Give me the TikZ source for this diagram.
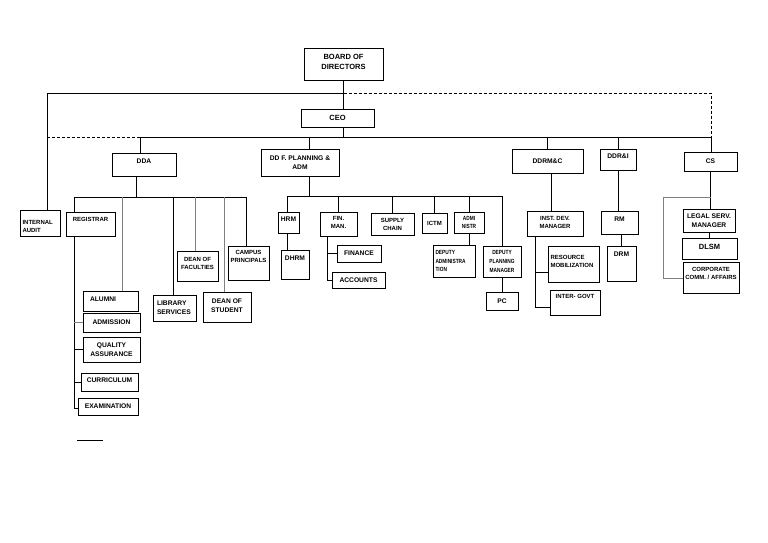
\documentclass[tikz,border=0pt]{standalone}
\usepackage{fontspec}
\setmainfont{Liberation Sans}
\newfontfamily\narrowsans[FakeStretch=0.8]{Liberation Sans}
\newcommand{\fbig}{\fontsize{7.5}{10.5}\selectfont\bfseries}
\newcommand{\fmid}{\fontsize{6.7}{8.6}\selectfont\bfseries}
\newcommand{\fsml}{\fontsize{6}{8}\selectfont\bfseries}
\newcommand{\ftny}{\narrowsans\fontsize{6}{8.6}\selectfont\bfseries}
\tikzset{
  unit/.style={draw, line width=0.95pt, inner sep=1pt, align=center, font=\fmid},
  sz/.style 2 args={minimum width=#1pt, minimum height=#2pt},
  link/.style={draw, line width=0.9pt},
  faint/.style={draw=black!50, line width=0.8pt},
  dashline/.style={line width=0.9pt, dash pattern=on 3pt off 2pt}
}
\begin{document}
\begin{tikzpicture}[x=1pt,y=-1pt]
\useasboundingbox (0,0) rectangle (768,543);
% top level
\node[unit, sz={79}{32}, font=\fbig, text depth=4.6pt] (bod) at (343.5,64) {BOARD OF\\DIRECTORS};
\node[unit, sz={73}{18}, font=\fbig] (ceo) at (337.5,118) {CEO};
\node[unit, sz={64}{23}, text depth=6.6pt] (dda) at (144,164.5) {DDA};
\node[unit, sz={78}{27}] (ddf) at (300,162.5) {DD F. PLANNING \&\\ADM};
\node[unit, sz={71}{24}] (ddrmc) at (547.5,161) {DDRM\&C};
\node[unit, sz={36}{21}, text depth=6.4pt] (ddri) at (618,159.5) {DDR\&I};
\node[unit, sz={53}{19}] (cs) at (710.5,161.5) {CS};
\node[unit, sz={40}{26}, font=\fsml, align=left, text width=35pt, inner xsep=2.5pt, text depth=2pt] (audit) at (40,223) {INTERNAL\\AUDIT};
% DDA
\node[unit, sz={49}{24}, font=\fsml, text depth=9.6pt] (reg) at (90.5,224) {REGISTRAR};
\node[unit, sz={55}{20}, align=left, text width=41pt, inner xsep=7pt, text depth=3.6pt] (alumni) at (110.5,301) {ALUMNI};
\node[unit, sz={57}{19}, text depth=1.6pt] (admis) at (111.5,322.5) {ADMISSION};
\node[unit, sz={57}{25}] (qa) at (111.5,349.5) {QUALITY\\ASSURANCE};
\node[unit, sz={57}{18}, text depth=3.4pt] (curr) at (109.5,382) {CURRICULUM};
\node[unit, sz={60}{17}] (exam) at (108,406.5) {EXAMINATION};
\node[unit, sz={43}{26}, align=left, text width=35pt, inner xsep=4pt] (lib) at (174.5,308) {LIBRARY\\SERVICES};
\node[unit, sz={41}{30}, font=\fsml, text depth=6pt] (fac) at (197.5,266) {DEAN OF\\FACULTIES};
\node[unit, sz={48}{30}, text depth=3pt] (stud) at (227,307) {DEAN OF\\STUDENT};
\node[unit, sz={41}{34}, font=\fsml, text depth=12.6pt] (camp) at (248.5,263) {CAMPUS\\PRINCIPALS};
% DD F. planning
\node[unit, sz={21}{21}, text depth=6.6pt] (hrm) at (288.5,222.5) {HRM};
\node[unit, sz={28}{29}, text depth=13.4pt] (dhrm) at (295,264.5) {DHRM};
\node[unit, sz={37}{24}, font=\fsml, text depth=2.6pt] (finman) at (338.5,224) {FIN.\\MAN.};
\node[unit, sz={43}{22}, font=\fsml] (supply) at (392.5,224) {SUPPLY\\CHAIN};
\node[unit, sz={25}{20}, font=\fsml] (ictm) at (434.5,223) {ICTM};
\node[unit, sz={30}{21}, font=\ftny] (admin) at (469,222.5) {ADMI\\NISTR};
\node[unit, sz={42}{32}, font=\ftny, align=left, text width=37pt, inner xsep=2.5pt] (depadm) at (454,261) {DEPUTY\\ADMINISTRA\\TION};
\node[unit, sz={38}{31}, font=\ftny] (dpm) at (502,261.5) {DEPUTY\\PLANNING\\MANAGER};
\node[unit, sz={32}{18}] (pc) at (502,301) {PC};
\node[unit, sz={44}{17}] (fin) at (359,253.5) {FINANCE};
\node[unit, sz={53}{16}] (acc) at (358.5,280) {ACCOUNTS};
% DDRM&C, DDR&I, CS
\node[unit, sz={56}{25}, font=\fsml, text depth=2pt] (idm) at (555,223.5) {INST. DEV.\\MANAGER};
\node[unit, sz={51}{36}, font=\fsml, align=left, text width=46pt, inner xsep=2.5pt, text depth=14pt] (resmob) at (573.5,264) {RESOURCE\\MOBILIZATION};
\node[unit, sz={50}{25}, font=\fsml, text depth=12.4pt] (igov) at (575,302.5) {INTER- GOVT};
\node[unit, sz={37}{23}, text depth=7.6pt] (rm) at (619.5,222.5) {RM};
\node[unit, sz={29}{35}, text depth=19.4pt] (drm) at (621.5,263.5) {DRM};
\node[unit, sz={52}{23}] (legal) at (709,220.5) {LEGAL SERV.\\MANAGER};
\node[unit, sz={55}{21}, font=\fbig, text depth=3pt] (dlsm) at (709.5,248.5) {DLSM};
\node[unit, sz={56}{31}, font=\fsml, text depth=7.6pt] (corp) at (711,277.5) {CORPORATE\\COMM. / AFFAIRS};
% top connectors
\coordinate (topL) at (47,93);
\coordinate (topR) at (711,93);
\coordinate (busL) at (47,137);
\coordinate (busD) at (140,137);
\coordinate (busR) at (711,137);
\coordinate (jDDF) at (309,137);
\draw[link] (bod.south) -- (bod.south |- ceo.north);
\draw[link] (topL |- audit.north) -- (topL) -- (bod.south |- topL);
\draw[dashline] (bod.south |- topL) -- (topR) -- (busR);
\draw[link] (bod.south |- ceo.south) -- (bod.south |- busR);
\draw[dashline] (busL) -- (busD);
\draw[link] (busD) -- (busR);
\draw[link] (busD) -- (busD |- dda.north);
\draw[link] (jDDF) -- (jDDF |- ddf.north);
\draw[link] (busR -| ddrmc.north) -- (ddrmc.north);
\draw[link] (busR -| ddri.north) -- (ddri.north);
\draw[link] (busR) -- (busR |- cs.north);
% DDA connectors
\coordinate (aBus) at (136,197);
\coordinate (aL) at (74,197);
\coordinate (aR) at (246,197);
\coordinate (aAl) at (122,197);
\coordinate (aLib) at (173,197);
\coordinate (aFac) at (195,197);
\coordinate (aStu) at (224,197);
\draw[link] (aBus |- dda.south) -- (aBus);
\draw[link] (aL) -- (aR);
\draw[link] (aL) -- (aL |- reg.north);
\draw[faint] (aAl) -- (aAl |- alumni.north);
\draw[link] (aLib) -- (aLib |- lib.north);
\draw[faint] (aFac) -- (aFac |- fac.north);
\draw[faint] (aStu) -- (aStu |- stud.north);
\draw[link] (aR) -- (aR |- camp.north);
\coordinate (rBot) at (74,408);
\draw[link] (rBot |- reg.south) -- (rBot) -- (exam.west |- rBot);
\draw[faint] (rBot |- admis.west) -- (admis.west);
\draw[link] (rBot |- qa.west) -- (qa.west);
\draw[link] (rBot |- curr.west) -- (curr.west);
\coordinate (stubA) at (77,440);
\coordinate (stubB) at (103,440);
\draw[link] (stubA) -- (stubB);
% DD F. planning connectors
\coordinate (fBus) at (309,196);
\coordinate (fL) at (287,196);
\coordinate (fR) at (502,196);
\draw[link] (fBus |- ddf.south) -- (fBus);
\draw[link] (fL) -- (fR);
\draw[link] (fL) -- (fL |- hrm.north);
\draw[link] (fL |- hrm.south) -- (fL |- dhrm.north);
\draw[link] (finman.north |- fR) -- (finman.north);
\draw[link] (supply.north |- fR) -- (supply.north);
\draw[link] (ictm.north |- fR) -- (ictm.north);
\draw[link] (admin.north |- fR) -- (admin.north);
\draw[link] (fR) -- (dpm.north);
\draw[link] (dpm.south) -- (pc.north);
\draw[link] (admin.south) -- (admin.south |- depadm.north);
\coordinate (mBot) at (327,280);
\draw[link] (mBot |- finman.south) -- (mBot) -- (acc.west);
\draw[link] (mBot |- fin.west) -- (fin.west);
% DDRM&C, DDR&I, CS connectors
\coordinate (cDrop) at (551,0);
\draw[link] (cDrop |- ddrmc.south) -- (cDrop |- idm.north);
\coordinate (iBot) at (535,307);
\coordinate (iMid) at (535,272);
\draw[link] (iBot |- idm.south) -- (iBot) -- (igov.west |- iBot);
\draw[link] (iMid) -- (iMid -| resmob.west);
\draw[link] (ddri.south) -- (ddri.south |- rm.north);
\draw[link] (drm.north |- rm.south) -- (drm.north);
\draw[link] (cs.south) -- (cs.south |- legal.north);
\draw[link] (legal.south) -- (legal.south |- dlsm.north);
\coordinate (sTop) at (710.5,197);
\coordinate (sL) at (663,197);
\coordinate (sB) at (663,278);
\draw[faint] (sTop) -- (sL) -- (sB) -- (sB -| corp.west);
\end{tikzpicture}
\end{document}
